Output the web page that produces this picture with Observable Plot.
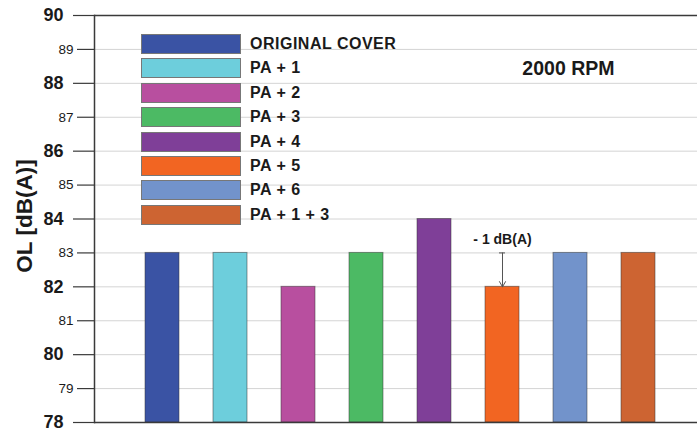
<!DOCTYPE html>
<html>
<head>
<meta charset="utf-8">
<script src="https://cdn.jsdelivr.net/npm/d3@7"></script>
<script src="https://cdn.jsdelivr.net/npm/@observablehq/plot@0.6"></script>
<style>
  html, body { margin: 0; padding: 0; background: #fff; }
  #wrap { position: relative; width: 697px; height: 430px; overflow: hidden; font-family: "Liberation Sans", Arial, sans-serif; }
  #wrap svg { position: absolute; left: 0; top: 0; }
  .legend { position: absolute; left: 141px; top: 34px; }
  .row { position: absolute; left: 0; height: 19px; white-space: nowrap; }
  .sw { position: absolute; left: 0; top: 0; width: 98px; height: 18px; border: 0.5px solid #777; box-sizing: content-box; }
  .lab { position: absolute; left: 109px; top: 0; line-height: 19px; font-size: 16px; font-weight: bold; color: #1a1a1a; letter-spacing: 0.5px; }
  .ylab { position: absolute; left: 25px; top: 216px; transform: translate(-50%, -50%) rotate(-90deg); font-size: 22.5px; font-weight: bold; color: #1a1a1a; white-space: nowrap; }
</style>
</head>
<body>
<div id="wrap"></div>
<script>
const categories = ["ORIGINAL COVER", "PA + 1", "PA + 2", "PA + 3", "PA + 4", "PA + 5", "PA + 6", "PA + 1 + 3"];
const values = [83, 83, 82, 83, 84, 82, 83, 83];
const colors = ["#3a53a4", "#6dcedc", "#b84f9f", "#4cba64", "#7f3f98", "#f26522", "#7293cb", "#cd6432"];
const majorTicks = [78, 80, 82, 84, 86, 88, 90];
const minorTicks = [79, 81, 83, 85, 87, 89];
const gridTicks = [79, 80, 81, 82, 83, 84, 85, 86, 87, 88, 89];
const yLabel = "OL [dB(A)]";
const speedLabel = "2000 RPM";
const annotation = [{cat: "PA + 5", from: 83, to: 82, text: "- 1 dB(A)"}];

const data = categories.map((c, i) => ({cat: c, v: values[i]}));

const chart = Plot.plot({
  width: 697,
  height: 430,
  marginLeft: 94,
  marginRight: 0,
  marginTop: 15,
  marginBottom: 8,
  style: {fontFamily: "'Liberation Sans', Arial, sans-serif", background: "transparent", color: "#1a1a1a"},
  x: {domain: categories, range: [111, 689], padding: 0.5, axis: null},
  y: {domain: [78, 90], axis: null},
  color: {domain: categories, range: colors},
  marks: [
    Plot.gridY(gridTicks, {stroke: "#d4d4d4", strokeOpacity: 1, strokeWidth: 1}),
    Plot.barY(data, {x: "cat", y1: 78, y2: "v", fill: "cat", stroke: "#333", strokeOpacity: 0.5, strokeWidth: 1}),
    Plot.ruleY([78, 90], {stroke: "#3a3a3a", strokeWidth: 1.5}),
    Plot.frame({anchor: "left", stroke: "#3a3a3a", strokeWidth: 1.5}),
    Plot.axisY(majorTicks, {tickSize: 21, tickPadding: 10, fontSize: 18, fontWeight: "bold", stroke: "#3a3a3a", strokeWidth: 1.2, fill: "#1a1a1a"}),
    Plot.axisY(minorTicks, {tickSize: 17, tickPadding: 4, fontSize: 13.5, stroke: "#3a3a3a", strokeWidth: 1.2, fill: "#1a1a1a"}),
    Plot.arrow(annotation, {x1: "cat", x2: "cat", y1: "from", y2: "to", stroke: "#555", strokeWidth: 1, headLength: 9, bend: 0}),
    Plot.tickY(annotation, {x: "cat", y: "from", stroke: "#555", strokeWidth: 1, inset: 14}),
    Plot.text(annotation, {x: "cat", y: "from", text: "text", dy: -13, fontSize: 14, fontWeight: "bold", fill: "#1a1a1a"}),
    Plot.text([speedLabel], {frameAnchor: "top-right", text: d => d, dx: -83, dy: 53, lineAnchor: "middle", fontSize: 19.5, fontWeight: "bold", fill: "#1a1a1a"})
  ]
});

const wrap = document.getElementById("wrap");
wrap.appendChild(chart);

const legend = document.createElement("div");
legend.className = "legend";
categories.forEach((c, i) => {
  const row = document.createElement("div");
  row.className = "row";
  row.style.top = (i * 24.4) + "px";
  const sw = document.createElement("div");
  sw.className = "sw";
  sw.style.background = colors[i];
  const lab = document.createElement("div");
  lab.className = "lab";
  lab.textContent = c;
  row.appendChild(sw);
  row.appendChild(lab);
  legend.appendChild(row);
});
wrap.appendChild(legend);

const yl = document.createElement("div");
yl.className = "ylab";
yl.textContent = yLabel;
wrap.appendChild(yl);
</script>
</body>
</html>
